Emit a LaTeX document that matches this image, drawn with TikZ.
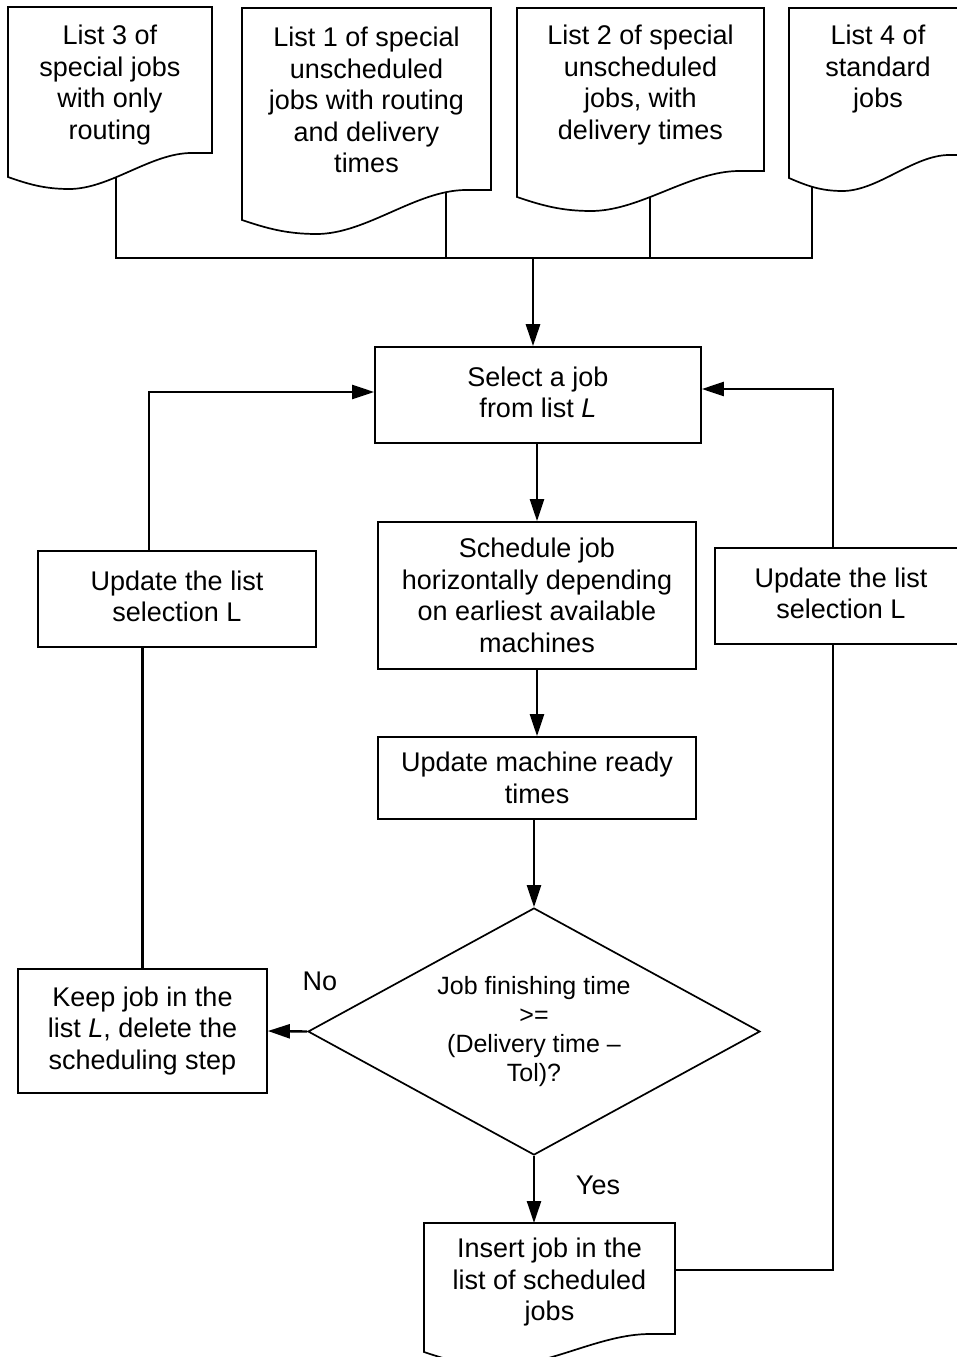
\documentclass[tikz,border=0pt]{standalone}
\usepackage{fontspec}
\setmainfont{Liberation Sans}
\usetikzlibrary{arrows.meta,shapes.geometric}
\pgfdeclarelayer{bg}
\pgfsetlayers{bg,main}

\tikzset{
  txt/.style={font=\fontsize{27}{31.5}\selectfont, align=center, inner sep=0pt},
  smalltxt/.style={font=\fontsize{25}{29}\selectfont, align=center, inner sep=0pt},
  proc/.style={txt, draw, line width=1.7pt, fill=white},
  frame/.style={inner sep=0pt, outer sep=0pt},
  docline/.style={draw, line width=1.7pt, fill=white, line join=miter},
  conn/.style={line width=2.2pt},
  arrow/.style={line width=2.4pt, -{Triangle[length=22pt,width=14pt]}},
}

% document symbol: left, right, top, left bottom, right bottom, dip of the wave
\newcommand\docshape[6]{%
  \pgfmathsetmacro\docw{#2-#1}%
  \path[docline] (#1,#3) -- (#2,#3) -- (#2,#5) -- ({#1+0.9*\docw},#5)
    .. controls ({#1+0.7*\docw},#5) and ({#1+0.5*\docw},{#4+#6}) .. ({#1+0.3*\docw},{#4+#6})
    .. controls ({#1+0.18*\docw},{#4+#6}) and ({#1+0.1*\docw},{#4+0.6*#6}) .. (#1,#4) -- cycle;}

\begin{document}
\begin{tikzpicture}[x=1pt,y=-1pt]
\useasboundingbox (0,0) rectangle (957,1357);
\begin{pgfonlayer}{bg}
  \fill[white] (0,0) rectangle (957,1357);
\end{pgfonlayer}

% input lists
\node[frame, minimum width=204pt, minimum height=146pt] (l3) at (110,80) {};
\docshape{8}{212}{7}{177}{153}{12}
\node[txt] (l3t) at (110,85) {List 3 of\\special jobs\\with only\\routing};

\node[frame, minimum width=249pt, minimum height=182pt] (l1) at (366.5,99) {};
\docshape{242}{491}{8}{220}{190}{14}
\node[txt] (l1t) at (366.5,100) {List 1 of special\\unscheduled\\jobs with routing\\and delivery\\times};

\node[frame, minimum width=247pt, minimum height=163pt] (l2) at (640.5,89.5) {};
\docshape{517}{764}{8}{197}{171}{14}
\node[txt] (l2t) at (640.5,85) {List 2 of special\\unscheduled\\jobs, with\\delivery times};

\node[frame, minimum width=178pt, minimum height=147pt] (l4) at (878,81.5) {};
\docshape{789}{967}{8}{178}{155}{13}
\node[txt] (l4t) at (878,69.5) {List 4 of\\standard\\jobs};

% process steps
\node[proc, minimum width=326pt, minimum height=96pt] (sel) at (538,395) {Select a job\\from list \textit{L}\vphantom{g}};
\node[proc, minimum width=318pt, minimum height=147pt] (sched) at (537,595.5) {Schedule job\\horizontally depending\\on earliest available\\machines};
\node[proc, minimum width=318pt, minimum height=82pt] (upd) at (537,778) {Update machine ready\\times};
\node[smalltxt, draw, line width=1.7pt, shape=diamond, aspect=1.83, minimum width=452pt, minimum height=247pt] (dia) at (534,1031.5) {Job finishing time\\>=\\(Delivery time –\\Tol)?};
\node[proc, minimum width=249pt, minimum height=124pt] (keep) at (142.5,1031) {Keep job in the\\list \textit{L}, delete the\\scheduling step};
\node[proc, minimum width=278pt, minimum height=96pt] (lupd) at (177,599) {Update the list\\selection L\vphantom{g}};
\node[proc, minimum width=252pt, minimum height=96pt] (rupd) at (841,596) {Update the list\\selection L\vphantom{g}};

% output list
\node[frame, minimum width=251pt, minimum height=111pt] (insf) at (549.5,1278.5) {};
\docshape{424}{675}{1223}{1352}{1334}{14}
\node[txt] (ins) at (549.5,1282.5) {Insert job in the\\list of scheduled\\jobs};

% branch labels
\node[txt] (no) at (320,981) {No};
\node[txt] (yes) at (598,1185) {Yes};

% collecting the lists
\coordinate (bus) at (533,258);
\coordinate (c3) at ([xshift=6pt]l3.south);
\coordinate (c1) at ([xshift=79.5pt]l1.south);
\coordinate (c2) at ([xshift=9.5pt]l2.south);
\coordinate (c4) at ([xshift=-66pt]l4.south);
\begin{pgfonlayer}{bg}
  \draw[conn] (c3) -- (c3 |- bus) -- (c4 |- bus) -- (c4);
  \draw[conn] (c1) -- (c1 |- bus);
  \draw[conn] (c2) -- (c2 |- bus);
\end{pgfonlayer}
\draw[arrow, line width=2.9pt] (bus) -- (bus |- sel.north);

% main flow
\draw[arrow] (sched.north |- sel.south) -- (sched.north);
\draw[arrow] (upd.north |- sched.south) -- (upd.north);
\draw[arrow] (dia.north |- upd.south) -- (dia.north);
\draw[arrow] (dia.west) -- (keep.east);
\draw[arrow] (dia.south) -- (dia.south |- insf.north);

% feedback loops
\draw[conn] (keep.north) -- (keep.north |- lupd.south);
\draw[arrow] ([xshift=-28pt]lupd.north) |- ([yshift=3pt]sel.west);
\draw[conn] ([yshift=8.5pt]insf.east) -| ([xshift=-8pt]rupd.south);
\draw[arrow] ([xshift=-8pt]rupd.north) |- ([yshift=6pt]sel.east);
\end{tikzpicture}
\end{document}
